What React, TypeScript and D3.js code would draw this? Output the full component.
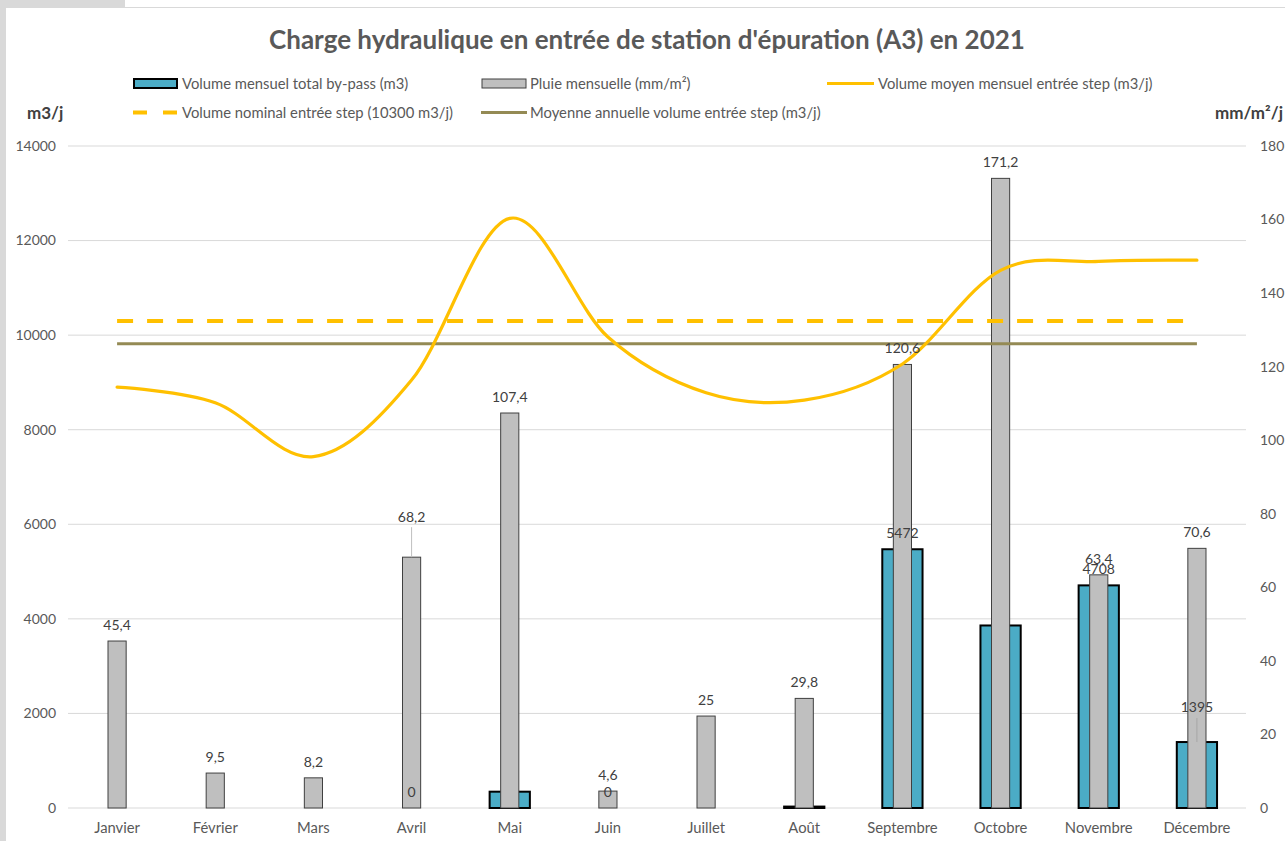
import React, { useEffect, useRef } from 'react';
import * as d3 from 'd3';

const months = ['Janvier', 'Février', 'Mars', 'Avril', 'Mai', 'Juin', 'Juillet', 'Août', 'Septembre', 'Octobre', 'Novembre', 'Décembre'];
// m3, primary axis
const bypass: (number | null)[] = [null, null, null, 0, 345, 0, null, 30, 5472, 3860, 4708, 1395];
const bypassLabelShown = [false, false, false, true, false, true, false, false, true, false, true, true];
// mm/m2, secondary axis
const pluie = [45.4, 9.5, 8.2, 68.2, 107.4, 4.6, 25, 29.8, 120.6, 171.2, 63.4, 70.6];
// m3/j, primary axis
const volumeMoyen = [8900, 8570, 7430, 9050, 12470, 9960, 8780, 8625, 9390, 11370, 11560, 11585];
const volumeNominal = 10300;
const moyenneAnnuelle = 9820;

const leftTicks = [0, 2000, 4000, 6000, 8000, 10000, 12000, 14000];
const rightTicks = [0, 20, 40, 60, 80, 100, 120, 140, 160, 180];

const FONT = 'Lato, "Open Sans", sans-serif';
const TXT = '#595959';

const App = () => {
    const ref = useRef<SVGSVGElement>(null);

    useEffect(() => {
        const svg = d3.select(ref.current);
        svg.selectAll('*').remove();

        const x = d3.scaleBand<string>().domain(months).range([68, 1246]);
        const y = d3.scaleLinear().domain([0, 14000]).range([808, 146]);
        const y2 = d3.scaleLinear().domain([0, 180]).range([808, 146]);
        const bw = x.bandwidth();
        const cx = (i: number) => (x(months[i]) as number) + bw / 2;

        // background like the Excel capture
        svg.append('rect').attr('width', 1285).attr('height', 841).attr('fill', '#fff');
        svg.append('rect').attr('x', 0).attr('y', 0).attr('width', 6).attr('height', 841).attr('fill', '#d9d9d9');
        svg.append('rect').attr('x', 0).attr('y', 0).attr('width', 125).attr('height', 7).attr('fill', '#d9d9d9');
        svg.append('line').attr('x1', 6).attr('x2', 1285).attr('y1', 7.5).attr('y2', 7.5).attr('stroke', '#d9d9d9');

        // title
        svg.append('text')
            .attr('x', 647).attr('y', 49)
            .attr('text-anchor', 'middle')
            .style('font-family', FONT).style('font-size', '26px').style('font-weight', 'bold')
            .style('fill', TXT)
            .text("Charge hydraulique en entrée de station d'épuration (A3) en 2021");

        // legend
        const lg = svg.append('g').style('font-family', FONT).style('font-size', '14.8px').style('fill', TXT);
        lg.append('rect').attr('x', 134).attr('y', 79).attr('width', 43).attr('height', 9)
            .attr('fill', '#4BACC6').attr('stroke', '#000').attr('stroke-width', 2);
        lg.append('text').attr('x', 182).attr('y', 88.5).text('Volume mensuel total by-pass (m3)');
        lg.append('rect').attr('x', 482).attr('y', 79).attr('width', 44).attr('height', 9)
            .attr('fill', '#BFBFBF').attr('stroke', '#404040').attr('stroke-width', 1);
        lg.append('text').attr('x', 530).attr('y', 88.5).text('Pluie mensuelle (mm/m²)');
        lg.append('line').attr('x1', 827).attr('x2', 874).attr('y1', 83.5).attr('y2', 83.5)
            .attr('stroke', '#FFC000').attr('stroke-width', 3);
        lg.append('text').attr('x', 878).attr('y', 88.5).text('Volume moyen mensuel entrée step (m3/j)');
        lg.append('line').attr('x1', 133).attr('x2', 178).attr('y1', 112.5).attr('y2', 112.5)
            .attr('stroke', '#FFC000').attr('stroke-width', 4).attr('stroke-dasharray', '14 16');
        lg.append('text').attr('x', 182).attr('y', 117.5).text('Volume nominal entrée step (10300 m3/j)');
        lg.append('line').attr('x1', 481).attr('x2', 527).attr('y1', 112.5).attr('y2', 112.5)
            .attr('stroke', '#948A54').attr('stroke-width', 3);
        lg.append('text').attr('x', 530).attr('y', 117.5).text('Moyenne annuelle volume entrée step (m3/j)');

        // axis titles
        svg.append('text').attr('x', 27).attr('y', 119)
            .style('font-family', FONT).style('font-size', '17px').style('font-weight', 'bold').style('fill', '#404040')
            .text('m3/j');
        svg.append('text').attr('x', 1283).attr('y', 119).attr('text-anchor', 'end')
            .style('font-family', FONT).style('font-size', '17px').style('font-weight', 'bold').style('fill', '#404040')
            .text('mm/m²/j');

        // gridlines + tick labels
        svg.append('g').selectAll('line').data(leftTicks).join('line')
            .attr('x1', 68).attr('x2', 1246)
            .attr('y1', d => y(d)).attr('y2', d => y(d))
            .attr('stroke', '#D9D9D9').attr('stroke-width', 1);
        svg.append('g').selectAll('text').data(leftTicks).join('text')
            .attr('x', 56).attr('y', d => y(d)).attr('dy', '0.35em').attr('text-anchor', 'end')
            .style('font-family', FONT).style('font-size', '14px').style('fill', TXT)
            .text(d => String(d));
        svg.append('g').selectAll('text').data(rightTicks).join('text')
            .attr('x', 1260).attr('y', d => y2(d)).attr('dy', '0.35em')
            .style('font-family', FONT).style('font-size', '14px').style('fill', TXT)
            .text(d => String(d));
        svg.append('g').selectAll('text').data(months).join('text')
            .attr('x', (d, i) => cx(i)).attr('y', 828).attr('dy', '0.35em').attr('text-anchor', 'middle')
            .style('font-family', FONT).style('font-size', '14.8px').style('fill', TXT)
            .text(d => d);

        // by-pass bars
        const bpW = bw * 0.41;
        svg.append('g').selectAll('rect')
            .data(bypass.map((v, i) => ({ v, i })).filter(d => d.v !== null && (d.v as number) > 0))
            .join('rect')
            .attr('x', d => cx(d.i) - bpW / 2).attr('width', bpW)
            .attr('y', d => y(d.v as number)).attr('height', d => y(0) - y(d.v as number))
            .attr('fill', '#4BACC6').attr('stroke', '#000').attr('stroke-width', 2);

        // rain bars
        const rW = bw * 0.185;
        svg.append('g').selectAll('rect').data(pluie).join('rect')
            .attr('x', (d, i) => cx(i) - rW / 2).attr('width', rW)
            .attr('y', d => y2(d)).attr('height', d => y2(0) - y2(d))
            .attr('fill', '#BFBFBF').attr('stroke', '#404040').attr('stroke-width', 1);

        // reference lines
        svg.append('line').attr('x1', cx(0)).attr('x2', cx(11))
            .attr('y1', y(volumeNominal)).attr('y2', y(volumeNominal))
            .attr('stroke', '#FFC000').attr('stroke-width', 4).attr('stroke-dasharray', '16 14');
        svg.append('line').attr('x1', cx(0)).attr('x2', cx(11))
            .attr('y1', y(moyenneAnnuelle)).attr('y2', y(moyenneAnnuelle))
            .attr('stroke', '#948A54').attr('stroke-width', 3);

        // smoothed monthly mean
        const lineGen = d3.line<number>()
            .x((d, i) => cx(i))
            .y(d => y(d))
            .curve(d3.curveCardinal.tension(0));
        svg.append('path').datum(volumeMoyen)
            .attr('d', lineGen)
            .attr('fill', 'none').attr('stroke', '#FFC000').attr('stroke-width', 3.2)
            .attr('stroke-linecap', 'round');

        // data labels (a few were dragged up in Excel, with a leader line)
        const pluieLift: Record<number, number> = { 3: 24 };
        const bypassLift: Record<number, number> = { 11: 19 };
        const fmt = (v: number) => String(v).replace('.', ',');
        const labels = svg.append('g').style('font-family', FONT).style('font-size', '14px').style('fill', '#404040');

        pluie.forEach((v, i) => {
            const lift = pluieLift[i] || 0;
            const ly = y2(v) - 16 - lift;
            if (lift) {
                svg.append('line').attr('x1', cx(i)).attr('x2', cx(i))
                    .attr('y1', ly + 10).attr('y2', y2(v))
                    .attr('stroke', '#BFBFBF').attr('stroke-width', 1);
            }
            labels.append('text').attr('x', cx(i)).attr('y', ly).attr('dy', '0.35em')
                .attr('text-anchor', 'middle').text(fmt(v));
        });

        bypass.forEach((v, i) => {
            if (v === null || !bypassLabelShown[i]) return;
            const lift = bypassLift[i] || 0;
            const ly = y(v) - 16 - lift;
            if (lift) {
                svg.append('line').attr('x1', cx(i)).attr('x2', cx(i))
                    .attr('y1', ly + 11).attr('y2', y(v))
                    .attr('stroke', '#A6A6A6').attr('stroke-width', 1);
            }
            labels.append('text').attr('x', cx(i)).attr('y', ly).attr('dy', '0.35em')
                .attr('text-anchor', 'middle').text(fmt(v));
        });
        labels.raise();
    }, []);

    return (
        <div style={{ position: 'absolute', left: 0, top: 0 }}>
            <svg ref={ref} width={1285} height={841} />
        </div>
    );
};

export default App;
